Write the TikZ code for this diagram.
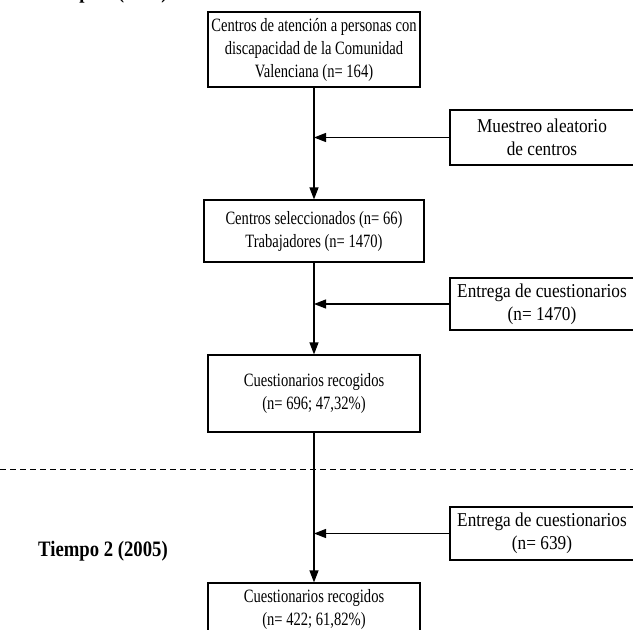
\documentclass[tikz,border=0pt]{standalone}
\usepackage{fontspec}
\setmainfont{Liberation Serif}[FakeStretch=0.85]
\newfontfamily\mainboxfont{Liberation Serif}[FakeStretch=0.775]
\newfontfamily\sideboxfont{Liberation Serif}[FakeStretch=0.88]
\usetikzlibrary{arrows.meta}
\begin{document}
\begin{tikzpicture}[x=1pt,y=-1pt,
  box/.style={draw, line width=1.2pt, align=center, inner sep=0pt},
  mainbox/.style={box, minimum width=212pt,
    font=\mainboxfont\fontsize{18.8}{23}\selectfont},
  sidebox/.style={box, minimum width=184pt, minimum height=53pt,
    font=\sideboxfont\fontsize{19.6}{23}\selectfont},
  conn/.style={line width=1.2pt, -{Triangle[length=12pt,width=9pt]}},
  lbl/.style={font=\fontsize{22}{24}\selectfont\bfseries, inner sep=0pt}]
\useasboundingbox (0,0) rectangle (633,630);
\clip (0,0) rectangle (633,630);
% Time labels
\node[lbl, anchor=base west] (t1) at (38,-1.5) {Tiempo 1 (2003)};
\node[lbl] (t2) at (103,551) {Tiempo 2 (2005)};
% main column
\node[mainbox, minimum height=75pt] (b1) at (314,49.5)
  {Centros de atención a personas con\\discapacidad de la Comunidad\\Valenciana (n= 164)};
\node[mainbox, minimum width=220pt, minimum height=62pt] (b2) at (314,231)
  {Centros seleccionados (n= 66)\\Trabajadores (n= 1470)};
\node[mainbox, minimum height=77pt] (b3) at (314,393.5)
  {Cuestionarios recogidos\\(n= 696; 47,32\%)};
\node[mainbox, minimum height=53pt] (b4) at (314,609.5)
  {Cuestionarios recogidos\\(n= 422; 61,82\%)};
% side boxes
\node[sidebox, minimum height=55pt] (s1) at (542,137.5) {Muestreo aleatorio\\de centros};
\node[sidebox, minimum height=52pt] (s2) at (542,304) {Entrega de cuestionarios\\(n= 1470)};
\node[sidebox, minimum height=53pt] (s3) at (542,533.5) {Entrega de cuestionarios\\(n= 639)};
% dashed separator
\coordinate (dl) at (0,469);
\coordinate (dr) at (633,469);
\draw[line width=1pt, dash pattern=on 6pt off 4pt] (dl) -- (dr);
% connectors
\draw[conn] (b1.south) -- (b2.north);
\draw[conn] (b2.south) -- (b3.north);
\draw[conn] (b3.south) -- (b4.north);
\draw[conn] (s1.west) -- (s1.west -| b1.south);
\draw[conn] (s2.west) -- (s2.west -| b1.south);
\draw[conn] (s3.west) -- (s3.west -| b1.south);
\end{tikzpicture}
\end{document}
